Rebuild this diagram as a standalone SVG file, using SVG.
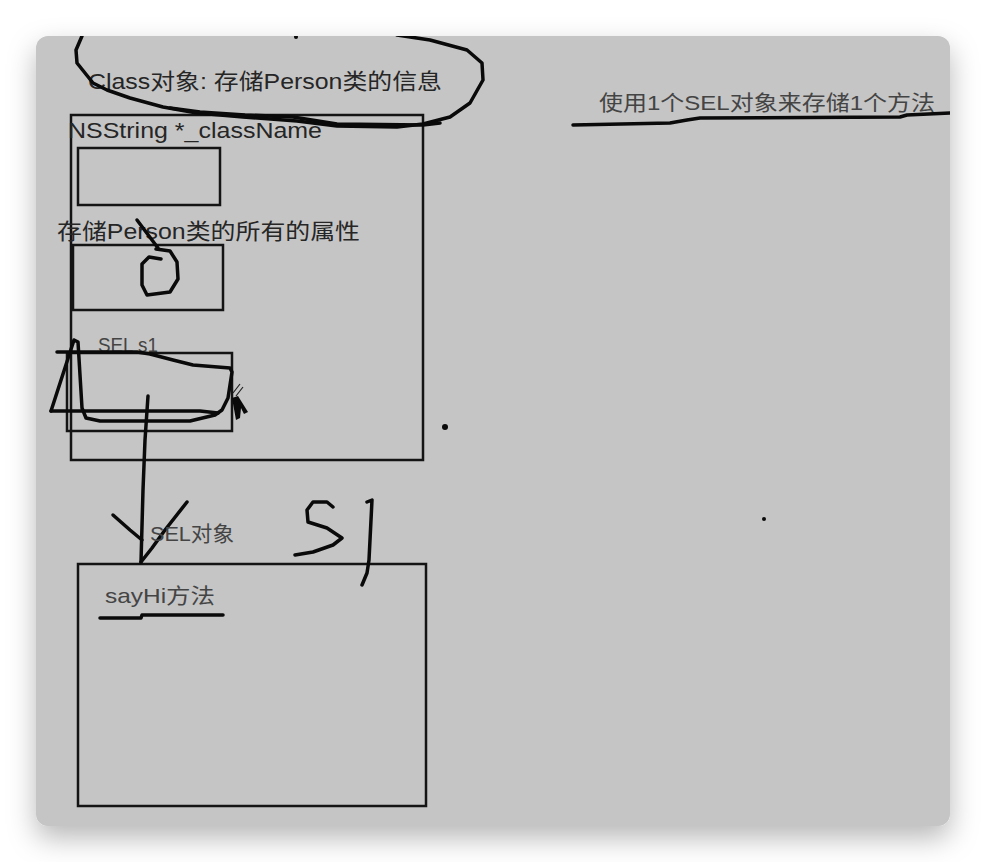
<svg xmlns="http://www.w3.org/2000/svg" width="986" height="862" viewBox="0 0 986 862">
  <defs>
    <filter id="panelShadow" x="-10%" y="-10%" width="120%" height="125%">
      <feDropShadow dx="0" dy="12" stdDeviation="14" flood-color="#000" flood-opacity="0.28"/>
    </filter>
    <clipPath id="panelClip">
      <rect x="36" y="36" width="914" height="790" rx="12"/>
    </clipPath>
    <style>
      .box { fill: none; stroke: #141414; stroke-width: 2.5; }
      .ink { fill: none; stroke: #0a0a0a; stroke-width: 3.5; stroke-linecap: round; stroke-linejoin: round; }
      .lbl { font-family: "Liberation Sans", "Noto Sans CJK SC", sans-serif; font-size: 22px; fill: #262626; }
      .lbl2 { font-family: "Liberation Sans", "Noto Sans CJK SC", sans-serif; font-size: 21px; fill: #444; }
    </style>
  </defs>

  <rect width="986" height="862" fill="#ffffff"/>
  <rect x="36" y="36" width="914" height="790" rx="12" fill="#c5c5c5" filter="url(#panelShadow)"/>

  <g clip-path="url(#panelClip)">
    <!-- Class object -->
    <g id="class-object">
      <rect class="box" x="71" y="115" width="352" height="345"/>
      <text class="lbl" x="88" y="89" textLength="354" lengthAdjust="spacingAndGlyphs">Class对象: 存储Person类的信息</text>
    </g>

    <g id="classname-slot">
      <text class="lbl" x="68" y="138" textLength="254" lengthAdjust="spacingAndGlyphs">NSString *_className</text>
      <rect class="box" x="78" y="148" width="142" height="57"/>
    </g>

    <g id="properties-slot">
      <text class="lbl" x="57" y="239" textLength="303" lengthAdjust="spacingAndGlyphs">存储Person类的所有的属性</text>
      <rect class="box" x="73" y="245" width="150" height="65"/>
    </g>

    <g id="sel-slot">
      <text class="lbl2" x="98" y="352" textLength="60" lengthAdjust="spacingAndGlyphs" fill="#555">SEL s1</text>
      <rect class="box" x="67" y="353" width="165" height="78"/>
    </g>

    <g id="method-box">
      <rect class="box" x="78" y="564" width="348" height="242"/>
      <text class="lbl2" x="105" y="603" textLength="110" lengthAdjust="spacingAndGlyphs">sayHi方法</text>
    </g>

    <g id="note">
      <text class="lbl2" x="599" y="110" textLength="336" lengthAdjust="spacingAndGlyphs">使用1个SEL对象来存储1个方法</text>
    </g>

    <!-- connector: SEL slot to the method it stores -->
    <g id="connectors">
      <path class="ink" d="M148,396 L145,440 L143,490 L141,562"/>
      <path class="ink" d="M113,515 L130,530 L142,540"/>
      <path class="ink" d="M187,502 L165,530 L152,548 L141,562"/>
      <text class="lbl2" x="150" y="541" textLength="84" lengthAdjust="spacingAndGlyphs">SEL对象</text>
    </g>

    <!-- freehand annotations -->
    <g id="annotations">
      <!-- loop around the class label -->
      <path class="ink" d="M82,36 L76,50 L77,63 L85,73 L93,83 L107,90 L130,98 L163,107 L197,113 L243,117 L297,121 L337,126 L397,127 L423,124 L450,117 L470,103 L483,80 L482,63 L467,50 L430,40 L397,35"/>
      <path class="ink" d="M170,108 L200,112 L245,115 L293,117 L337,124 L423,125 L440,123"/>
      <circle cx="296" cy="37" r="2" fill="#0a0a0a"/>

      <!-- underline of the note -->
      <path class="ink" d="M573,125 L670,123 L687,120 L700,118 L900,117 L907,115 L952,113"/>

      <!-- pointer into the properties slot -->
      <path class="ink" d="M137,220 L158,248"/>
      <path class="ink" d="M156,249 L170,251 L177,262 L178,279 L170,292 L147,295 L142,285 L142,264 L149,257 L161,259"/>

      <!-- scribble over the SEL slot -->
      <path class="ink" d="M51,411 L74,340 L78,342 L82,408 L86,418 L100,421 L190,421 L215,415 L222,410 L228,398 L232,372 L230,368 L193,365 L173,360 L150,354 L137,352 L57,352"/>
      <path class="ink" d="M51,411 L200,411 L218,413"/>
      <path d="M232,398 L238,396 L248,412 L244,414 L241,408 L240,418 L236,420 Z" fill="#0a0a0a"/>
      <path d="M233,393 L240,384 M236,396 L243,387" stroke="#222" stroke-width="1.2" fill="none"/>

      <!-- "S" and bar -->
      <path class="ink" d="M333,507 L327,502 L313,502 L307,510 L308,522 L327,528 L342,538 L333,545 L313,552 L295,555"/>
      <path class="ink" d="M367,502 L372,500 L369,560 L367,573 L362,585"/>

      <!-- underline of the method name -->
      <path class="ink" d="M100,618 L141,618 L142,615 L223,615"/>

      <circle cx="445" cy="427" r="3" fill="#0a0a0a"/>
      <circle cx="764" cy="519" r="2" fill="#0a0a0a"/>
    </g>
  </g>
</svg>
